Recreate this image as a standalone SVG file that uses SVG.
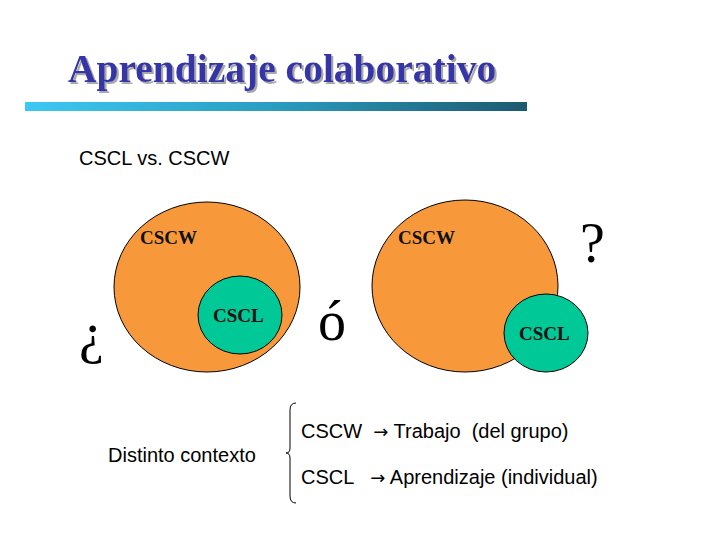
<svg xmlns="http://www.w3.org/2000/svg" width="720" height="540" viewBox="0 0 720 540">
<defs>
<linearGradient id="bar" x1="0" x2="1" y1="0" y2="0">
<stop offset="0" stop-color="#3cc8f4"/>
<stop offset="0.5" stop-color="#2a9cc0"/>
<stop offset="1" stop-color="#1c5a6e"/>
</linearGradient>
<filter id="shadow" x="-5%" y="-20%" width="110%" height="140%">
<feDropShadow dx="2" dy="2" stdDeviation="0.6" flood-color="#a8a8a8" flood-opacity="1"/>
</filter>
</defs>
<style>
.big{fill:#f7993a;stroke:#000;stroke-width:1}
.small{fill:#00c896;stroke:#000;stroke-width:1}
.lbl{font-family:"Liberation Serif",serif;font-weight:bold;font-size:19px;fill:#111}
.sans{font-family:"Liberation Sans",Arial,sans-serif;font-size:20px;fill:#000;white-space:pre}
.sym{font-family:"Liberation Serif",serif;font-size:56px;fill:#000}
.arr{font-family:"DejaVu Sans",sans-serif;font-size:18px}
</style>
<rect width="720" height="540" fill="#fff"/>
<g id="title">
<text x="68" y="82" font-family="Liberation Serif,serif" font-weight="bold" font-size="39.5" fill="#3535a8" filter="url(#shadow)">Aprendizaje colaborativo</text>
<rect x="25" y="102" width="502" height="9" fill="url(#bar)"/>
</g>
<text class="sans" x="79" y="165">CSCL vs. CSCW</text>
<g id="left-cscw"><ellipse class="big" cx="207" cy="287" rx="93" ry="85"/><text class="lbl" x="140" y="244">CSCW</text></g>
<g id="left-cscl"><ellipse class="small" cx="240" cy="315" rx="42" ry="39"/><text class="lbl" x="213" y="322">CSCL</text></g>
<g id="right-cscw"><ellipse class="big" cx="465" cy="286" rx="93" ry="86"/><text class="lbl" x="398" y="244">CSCW</text></g>
<g id="right-cscl"><ellipse class="small" cx="546" cy="333" rx="42" ry="39"/><text class="lbl" x="519" y="340">CSCL</text></g>
<text class="sym" x="79" y="352">¿</text>
<text class="sym" x="318" y="340">ó</text>
<text class="sym" x="580" y="262">?</text>
<text class="sans" x="108" y="462">Distinto contexto</text>
<g id="connectors">
<path d="M296,403 Q290,403 290,410 L290,448 Q290,453 286,453 Q290,453 290,458 L290,496 Q290,503 296,503" fill="none" stroke="#000" stroke-width="1"/>
</g>
<text class="sans" x="301" y="438">CSCW  <tspan class="arr">→</tspan> Trabajo  (del grupo)</text>
<text class="sans" x="301" y="484">CSCL   <tspan class="arr">→</tspan> Aprendizaje (individual)</text>
</svg>
